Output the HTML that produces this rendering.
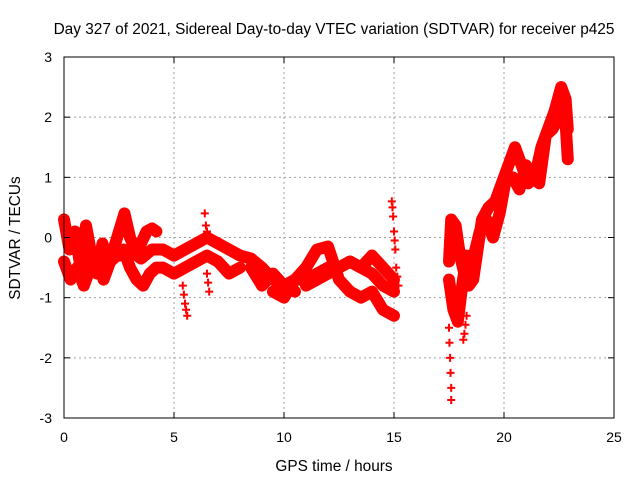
<!DOCTYPE html>
<html><head><meta charset="utf-8"><style>
body{margin:0;background:#fff}
svg{display:block;font-family:"Liberation Sans",sans-serif}
</style></head><body>
<svg id="chart" width="640" height="480" viewBox="0 0 640 480">
<rect width="640" height="480" fill="#fff"/>
<g id="grid"></g>
<g id="marks"></g>
<rect x="64" y="57" width="550" height="361" fill="none" stroke="#000" stroke-width="1"/>
<g id="ticks"></g>
<text x="334" y="34" font-size="15.4" text-anchor="middle">Day 327 of 2021, Sidereal Day-to-day VTEC variation (SDTVAR) for receiver p425</text>
<text x="334" y="471" font-size="15.4" text-anchor="middle">GPS time / hours</text>
<text transform="translate(20,238) rotate(-90)" font-size="15.4" text-anchor="middle">SDTVAR / TECUs</text>
</svg>
<script>
const xTicks=[0,5,10,15,20,25];
const yTicks=[-3,-2,-1,0,1,2,3];
const s1t=[0,0.25,0.5,0.75,1,1.25,1.5,1.75,2,2.25,2.5,2.75,3,3.25,3.5,3.75,4,4.2];
const s1v=[0.3,-0.2,0.1,-0.5,0.2,-0.3,-0.6,-0.1,-0.4,-0.2,0.1,0.4,0,-0.2,-0.1,0.1,0.15,0.1];
const s2t=[0,0.3,0.6,0.9,1.2,1.5,1.8,2.1,2.4,2.7,3,3.3,3.6,3.9,4.2,4.5,5,5.5,6,6.5,7,7.5,8];
const s2v=[-0.4,-0.7,-0.5,-0.8,-0.5,-0.3,-0.7,-0.4,-0.3,-0.2,-0.5,-0.7,-0.8,-0.6,-0.5,-0.5,-0.6,-0.5,-0.4,-0.3,-0.4,-0.6,-0.5];
const s3t=[2.5,3,3.5,4,4.5,5,5.5,6,6.5,7,7.5,8,8.5,9,9.5,10,10.5];
const s3v=[-0.3,-0.2,-0.35,-0.2,-0.2,-0.3,-0.2,-0.1,0,-0.1,-0.2,-0.3,-0.35,-0.5,-0.7,-0.8,-0.9];
const s4t=[5.4,5.45,5.5,5.55,5.6,6.4,6.45,6.5,6.5,6.55,6.6];
const s4v=[-0.8,-0.95,-1.1,-1.2,-1.3,0.4,0.2,0.1,-0.6,-0.75,-0.9];
const s5t=[8.5,9,9.5,10,10.5,11,11.5,12,12.5,13,13.5,14,14.5,15];
const s5v=[-0.5,-0.8,-0.6,-0.8,-0.7,-0.7,-0.6,-0.5,-0.5,-0.4,-0.5,-0.6,-0.8,-0.9];
const s6t=[9.5,10,10.5,11,11.5,12,12.5,13,13.5,14,14.5,15];
const s6v=[-0.9,-1.0,-0.7,-0.5,-0.2,-0.15,-0.7,-0.9,-1.0,-0.9,-1.2,-1.3];
const s7t=[11,12,13,13.5,14,14.5,15];
const s7v=[-0.8,-0.6,-0.4,-0.5,-0.3,-0.5,-0.7];
const s8t=[14.9,14.93,14.96,15.0,15.03,15.06,15.1,15.15,15.2];
const s8v=[0.6,0.5,0.35,0.1,-0.05,-0.2,-0.5,-0.65,-0.8];
const s9t=[17.5,17.6,17.8,18,18.2,18.4,18.6,18.8,19,19.3,19.6,19.9,20.2,20.5,20.8,21.1,21.4,21.7,22,22.3,22.6,22.8,22.9];
const s9v=[-0.4,0.3,0.2,-0.3,-0.6,-0.8,-0.7,-0.2,0.3,0.5,0.6,0.9,1.2,1.5,1.2,0.9,1.0,1.5,1.8,2.1,2.5,2.3,1.8];
const s10t=[17.5,17.7,17.9,18.1,18.3,18.5,18.7,18.9,19.2,19.5,19.8,20.1,20.4,20.7,21,21.3,21.6,21.9,22.2,22.5,22.8,22.9];
const s10v=[-0.7,-1.2,-1.4,-0.8,-0.3,-0.5,-0.2,0.1,0.3,0,0.4,1.0,1.0,0.8,1.2,1.0,0.9,1.7,1.8,2.0,1.9,1.3];
const s11t=[17.5,17.52,17.55,17.57,17.6,17.6,18.15,18.2,18.25,18.3];
const s11v=[-1.5,-1.75,-2.0,-2.25,-2.5,-2.7,-1.7,-1.6,-1.45,-1.3];
const lineSeries=[[s1t,s1v],[s2t,s2v],[s3t,s3v],[s5t,s5v],[s6t,s6v],[s7t,s7v],[s9t,s9v],[s10t,s10v]];
const markSeries=[[s4t,s4v],[s8t,s8v],[s11t,s11v]];
const X=t=>64+22*t, Y=v=>237.5-60.17*v;
const NS="http://www.w3.org/2000/svg";
const grid=document.getElementById('grid'),ticks=document.getElementById('ticks'),marks=document.getElementById('marks');
function mk(tag,attrs,parent){const e=document.createElementNS(NS,tag);for(const k in attrs)e.setAttribute(k,attrs[k]);parent.appendChild(e);return e;}
xTicks.forEach(t=>{const x=X(t);
 if(t>0&&t<25){const g=mk('line',{x1:x,x2:x,y1:57,y2:418,stroke:'#a0a0a0','stroke-dasharray':'2,3'},grid);
 
 }
 mk('line',{x1:x,x2:x,y1:418,y2:412,stroke:'#000'},ticks);mk('line',{x1:x,x2:x,y1:57,y2:63,stroke:'#000'},ticks);
 const l=mk('text',{x:x,y:442,'font-size':14,'text-anchor':'middle'},ticks);l.textContent=t;
 
 });
yTicks.forEach(v=>{const y=Y(v);
 if(v>-3&&v<3){const g=mk('line',{x1:64,x2:614,y1:y,y2:y,stroke:'#a0a0a0','stroke-dasharray':'2,3'},grid);
 
 }
 mk('line',{x1:64,x2:70,y1:y,y2:y,stroke:'#000'},ticks);mk('line',{x1:608,x2:614,y1:y,y2:y,stroke:'#000'},ticks);
 const l=mk('text',{x:52,y:y+5,'font-size':14,'text-anchor':'end'},ticks);l.textContent=v;
 
 });
function plus(t,v){const x=X(t),y=Y(v);
 const p=mk('path',{d:`M${x-4},${y}h8M${x},${y-4}v8`,stroke:'#f00','stroke-width':2,fill:'none'},marks);
 
 }
lineSeries.forEach(([ts,vs])=>{
 const pl=mk('polyline',{points:ts.map((t,i)=>X(t)+','+Y(vs[i])).join(' '),fill:'none',stroke:'#f00','stroke-width':12,'stroke-linejoin':'round','stroke-linecap':'round'},marks);
 
 
 ts.forEach((t,i)=>plus(t,vs[i]));});
markSeries.forEach(([ts,vs])=>ts.forEach((t,i)=>plus(t,vs[i])));
</script>
</body></html>
